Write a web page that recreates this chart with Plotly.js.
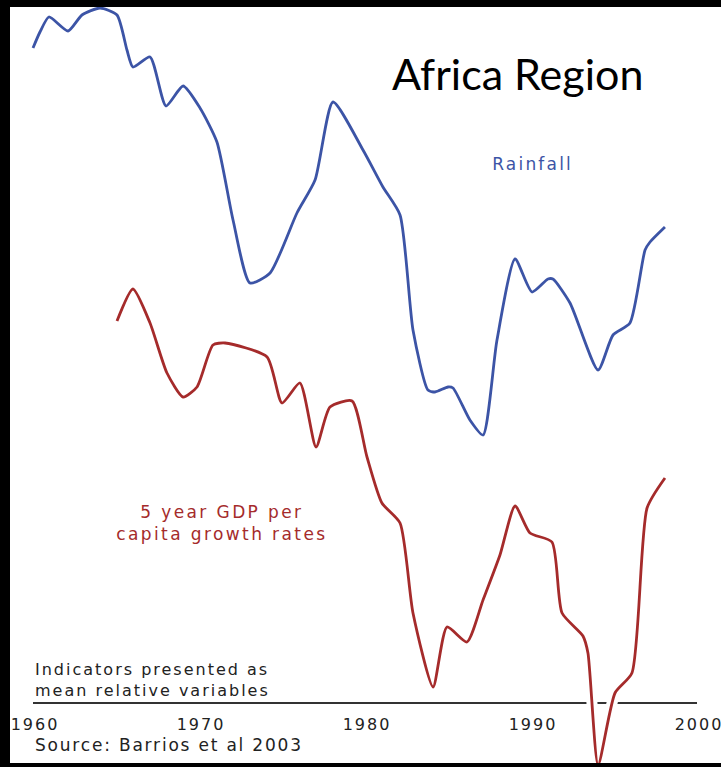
<!DOCTYPE html>
<html>
<head>
<meta charset="utf-8">
<script src="https://cdn.plot.ly/plotly-3.0.1.min.js"></script>
<style>
  html, body { margin: 0; padding: 0; background: #ffffff; }
  #chart { width: 721px; height: 767px; }
  #chart .xtick text { letter-spacing: 2px; }
  #chart g.annotation[data-index="0"] text { letter-spacing: 2.2px; }
  #chart g.annotation[data-index="1"] text { letter-spacing: 2.4px; }
  #chart g.annotation[data-index="2"] text { letter-spacing: 2px; }
  #chart g.annotation[data-index="3"] text { letter-spacing: 1.8px; }
</style>
</head>
<body>
<div id="chart"></div>
<script>
// Rainfall (mean relative index)
const rainYears = [1959.88, 1960.3, 1960.84, 1961.99, 1962.83, 1963.92, 1964.94, 1965.54, 1965.90, 1966.93, 1967.89, 1968.92, 1969.94, 1970.96, 1971.93, 1972.95, 1974.16, 1975.78, 1976.87, 1977.95, 1979.76, 1980.96, 1981.99, 1982.77, 1983.67, 1984.10, 1984.88, 1985.18, 1986.20, 1986.99, 1987.83, 1988.92, 1989.94, 1990.90, 1991.20, 1992.23, 1993.92, 1994.82, 1995.84, 1996.75, 1997.05, 1997.95];
const rainValues = [6.55, 6.71, 6.86, 6.72, 6.88, 6.95, 6.88, 6.53, 6.36, 6.46, 5.97, 6.17, 5.95, 5.61, 4.83, 4.20, 4.30, 4.90, 5.23, 6.01, 5.53, 5.16, 4.88, 3.73, 3.13, 3.11, 3.16, 3.15, 2.83, 2.68, 3.63, 4.44, 4.11, 4.24, 4.24, 4.00, 3.33, 3.68, 3.80, 4.53, 4.61, 4.76];

// 5 year GDP per capita growth rates (mean relative index)
const gdpYears = [1964.94, 1965.90, 1966.93, 1967.95, 1968.92, 1969.76, 1970.72, 1971.45, 1973.98, 1974.88, 1975.96, 1976.93, 1977.77, 1979.10, 1980.00, 1980.90, 1981.99, 1982.77, 1983.98, 1984.82, 1986.02, 1986.99, 1988.01, 1988.92, 1989.82, 1991.14, 1991.75, 1993.01, 1993.31, 1993.92, 1994.94, 1995.96, 1996.87, 1997.95];
const gdpValues = [3.82, 4.14, 3.80, 3.30, 3.06, 3.16, 3.58, 3.60, 3.46, 3.00, 3.20, 2.56, 2.96, 3.02, 2.46, 2.00, 1.80, 0.90, 0.16, 0.76, 0.61, 1.03, 1.48, 1.97, 1.70, 1.61, 0.90, 0.67, 0.50, -0.62, 0.10, 0.30, 1.95, 2.25];

const tickYears = [1960, 1970, 1980, 1990, 2000];
const tickLabels = ["1960", "1970", "1980", "1990", "2000"];

const BLUE = "#3c54a6";
const RED = "#a52b2b";
const TXT = "#222222";
const SANS = "DejaVu Sans, Liberation Sans, sans-serif";

const traces = [
  {
    x: rainYears, y: rainValues, type: "scatter", mode: "lines",
    line: { color: BLUE, width: 2.8, shape: "spline", smoothing: 0.6 },
    hoverinfo: "skip", showlegend: false
  },
  {
    x: gdpYears, y: gdpValues, type: "scatter", mode: "lines",
    line: { color: "#ffffff", width: 11, shape: "spline", smoothing: 0.6 },
    hoverinfo: "skip", showlegend: false
  },
  {
    x: gdpYears, y: gdpValues, type: "scatter", mode: "lines",
    line: { color: RED, width: 2.8, shape: "spline", smoothing: 0.6 },
    hoverinfo: "skip", showlegend: false
  }
];

const layout = {
  width: 721, height: 767, autosize: false,
  margin: { l: 0, r: 0, t: 0, b: 0, pad: 0 },
  paper_bgcolor: "#ffffff", plot_bgcolor: "#ffffff",
  showlegend: false,
  title: {
    text: "Africa Region",
    font: { family: "Lato, Open Sans, sans-serif", size: 43, color: "#000000" },
    x: 0.718, xanchor: "center", y: 0.902, yanchor: "middle"
  },
  xaxis: {
    range: [1957.892, 2001.325],
    anchor: "free", position: 0.0834,
    tickmode: "array", tickvals: tickYears, ticktext: tickLabels,
    ticks: "", showgrid: false, zeroline: false, showline: false,
    ticklabelstandoff: 10, ticklabeloverflow: "allow",
    tickfont: { family: SANS, size: 16, color: TXT },
    fixedrange: true
  },
  yaxis: {
    range: [-0.64, 7.03], visible: false, fixedrange: true
  },
  shapes: [
    { type: "line", xref: "x", yref: "y", x0: 1959.88, x1: 1999.88, y0: 0, y1: 0,
      line: { color: "#333333", width: 2 }, layer: "below" },
    { type: "rect", xref: "paper", yref: "paper", x0: 0, x1: 10 / 721, y0: 0, y1: 1,
      fillcolor: "#000000", line: { width: 0 }, layer: "above" },
    { type: "rect", xref: "paper", yref: "paper", x0: 0, x1: 1, y0: 1 - 7 / 767, y1: 1,
      fillcolor: "#000000", line: { width: 0 }, layer: "above" },
    { type: "rect", xref: "paper", yref: "paper", x0: 0, x1: 1, y0: 0, y1: 4 / 767,
      fillcolor: "#000000", line: { width: 0 }, layer: "above" }
  ],
  annotations: [
    { text: "Rainfall", xref: "x", yref: "y", x: 1989.94, y: 5.39,
      showarrow: false, xanchor: "center", yanchor: "middle",
      font: { family: SANS, size: 17, color: BLUE } },
    { text: "5 year GDP per<br>capita growth rates", xref: "x", yref: "y", x: 1971.27, y: 1.80,
      showarrow: false, xanchor: "center", yanchor: "middle", align: "center",
      font: { family: SANS, size: 17, color: RED } },
    { text: "Indicators presented as<br>mean relative variables", xref: "paper", yref: "paper",
      x: 33 / 721, y: 1 - 680 / 767,
      showarrow: false, xanchor: "left", yanchor: "middle", align: "left",
      font: { family: SANS, size: 16, color: TXT } },
    { text: "Source: Barrios et al 2003", xref: "paper", yref: "paper", x: 33 / 721, y: 1 - 745 / 767,
      showarrow: false, xanchor: "left", yanchor: "middle", align: "left",
      font: { family: SANS, size: 17, color: TXT } }
  ]
};

Plotly.newPlot("chart", traces, layout, { staticPlot: true, displayModeBar: false });
</script>
</body>
</html>
